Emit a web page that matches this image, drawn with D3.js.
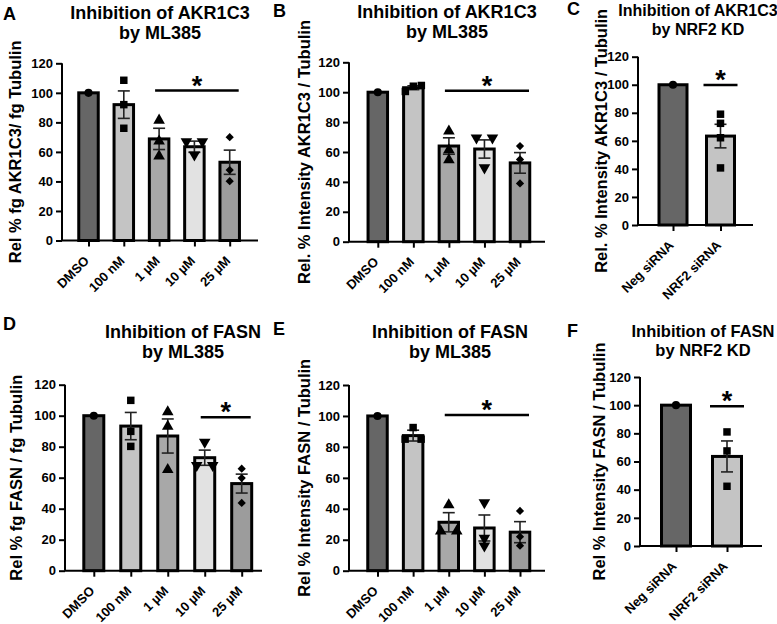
<!DOCTYPE html>
<html lang="en">
<head>
<meta charset="utf-8">
<title>Inhibition of AKR1C3 and FASN</title>
<script src="https://cdn.jsdelivr.net/npm/d3@7"></script>
<style>
  body { margin: 0; background: #fff; }
  svg { display: block; font-family: "Liberation Sans", Arial, sans-serif; }
</style>
</head>
<body>
<script>
// categories and tick labels
var doseCats = ["DMSO", "100 nM", "1 µM", "10 µM", "25 µM"];
var kdCats = ["Neg siRNA", "NRF2 siRNA"];
var yTicks = [0, 20, 40, 60, 80, 100, 120];

// A: AKR1C3 by ML385 (fg / fg tubulin)
var akrFgMean = [100, 92, 68.8, 63.5, 53];
var akrFgSem = [0, 9.3, 7.2, 3.8, 8.2];
var akrFgPts = [[100], [108.5, 92, 76], [81.4, 67.3, 57.2], [67, 67, 58], [70, 47.7, 40.2]];
var akrFgSig = [2, 4, 101.5];   // from category, to category, level

// B: AKR1C3 by ML385 (intensity)
var akrIntMean = [100, 103, 64, 62, 52.7];
var akrIntSem = [0, 1.3, 5.5, 6.1, 6.9];
var akrIntPts = [[100], [100.5, 104, 104.5], [74, 61.4, 54.7], [69.5, 69.5, 49.5], [64, 55, 39]];
var akrIntSig = [2, 4, 101];

// C: AKR1C3 by NRF2 KD
var akrKdMean = [100, 63.4];
var akrKdSem = [0, 8.4];
var akrKdPts = [[100], [79, 72.5, 62.2, 40.7]];
var akrKdSig = [1, 1, 99.8];

// D: FASN by ML385 (fg / fg tubulin)
var fasnFgMean = [100, 93.3, 86.9, 72.9, 56.2];
var fasnFgSem = [0, 8.8, 11, 4.9, 6.1];
var fasnFgPts = [[100], [109.9, 89.9, 80.2], [102.4, 93.1, 65.2], [83, 68, 68], [65.8, 59.8, 43.7]];
var fasnFgSig = [3, 4, 99];

// E: FASN by ML385 (intensity)
var fasnIntMean = [100, 87.3, 31.3, 27.6, 24.9];
var fasnIntSem = [0, 3.5, 6.2, 8.4, 6.8];
var fasnIntPts = [[100], [92.5, 85, 85], [42.5, 25.5, 25.5], [44, 21, 16], [38.6, 22, 16.2]];
var fasnIntSig = [2, 4, 100.6];

// F: FASN by NRF2 KD
var fasnKdMean = [100, 63.6];
var fasnKdSem = [0, 11];
var fasnKdPts = [[100], [81, 67.5, 42.4]];
var fasnKdSig = [1, 1, 99.3];

// styles
var doseColors = ["#666666", "#c4c4c4", "#a8a8a8", "#e2e2e2", "#9c9c9c"];
var kdColors = ["#666666", "#c4c4c4"];
var doseShapes = ["circle", "square", "up", "down", "diamond"];
var kdShapes = ["circle", "square"];

var w = 777, h = 624;
var svg = d3.select("body").append("svg").attr("width", w).attr("height", h);
svg.append("rect").attr("width", w).attr("height", h).attr("fill", "#fff");

var panels = [
  {letter: "A", lx: 3, ly: 20, title: ["Inhibition of AKR1C3", "by ML385"], tx: 160, ty: [19, 39], ts: 18,
   ylab: "Rel % fg AKR1C3/ fg Tubulin", ylx: 21, x0: 62, x1: 258, c0: 88.5, c1: 229.7, bw: 19.5,
   yTop: 63.3, yBot: 240.5, cats: doseCats, colors: doseColors, shapes: doseShapes,
   mean: akrFgMean, sem: akrFgSem, pts: akrFgPts, sig: akrFgSig},
  {letter: "B", lx: 273, ly: 17, title: ["Inhibition of AKR1C3", "by ML385"], tx: 447, ty: [18, 38], ts: 18,
   ylab: "Rel. % Intensity AKR1C3 / Tubulin", ylx: 310, x0: 349, x1: 545, c0: 377.8, c1: 520, bw: 19.5,
   yTop: 62.3, yBot: 241.7, cats: doseCats, colors: doseColors, shapes: doseShapes,
   mean: akrIntMean, sem: akrIntSem, pts: akrIntPts, sig: akrIntSig},
  {letter: "C", lx: 567, ly: 15, title: ["Inhibition of AKR1C3", "by NRF2 KD"], tx: 698, ty: [16, 35], ts: 16,
   ylab: "Rel. % Intensity AKR1C3 / Tubulin", ylx: 607, x0: 638, x1: 753, c0: 673, c1: 720.5, bw: 28,
   yTop: 56.7, yBot: 225, cats: kdCats, colors: kdColors, shapes: kdShapes,
   mean: akrKdMean, sem: akrKdSem, pts: akrKdPts, sig: akrKdSig},
  {letter: "D", lx: 3, ly: 330, title: ["Inhibition of FASN", "by ML385"], tx: 183, ty: [338, 358], ts: 18,
   ylab: "Rel % fg FASN / fg Tubulin", ylx: 22, x0: 65, x1: 262, c0: 93.8, c1: 241.7, bw: 20,
   yTop: 384.7, yBot: 570.7, cats: doseCats, colors: doseColors, shapes: doseShapes,
   mean: fasnFgMean, sem: fasnFgSem, pts: fasnFgPts, sig: fasnFgSig},
  {letter: "E", lx: 273, ly: 335, title: ["Inhibition of FASN", "by ML385"], tx: 450, ty: [338, 358], ts: 18,
   ylab: "Rel % Intensity FASN / Tubulin", ylx: 310, x0: 349, x1: 545, c0: 377.5, c1: 520, bw: 19.5,
   yTop: 385, yBot: 570.7, cats: doseCats, colors: doseColors, shapes: doseShapes,
   mean: fasnIntMean, sem: fasnIntSem, pts: fasnIntPts, sig: fasnIntSig},
  {letter: "F", lx: 567, ly: 337, title: ["Inhibition of FASN", "by NRF2 KD"], tx: 703, ty: [337, 356], ts: 16.5,
   ylab: "Rel % Intensity FASN / Tubulin", ylx: 605, x0: 640, x1: 762, c0: 676, c1: 727, bw: 29,
   yTop: 377, yBot: 546, cats: kdCats, colors: kdColors, shapes: kdShapes,
   mean: fasnKdMean, sem: fasnKdSem, pts: fasnKdPts, sig: fasnKdSig}
];

function symbolPath(shape) {
  if (shape == "circle") return d3.symbol(d3.symbolCircle, 52)();
  if (shape == "square") return d3.symbol(d3.symbolSquare, 56)();
  if (shape == "diamond") return d3.symbol(d3.symbolSquare, 34)();
  return d3.symbol(d3.symbolTriangle, 58)();
}
function symbolRot(shape) {
  if (shape == "down") return 180;
  if (shape == "diamond") return 45;
  return 0;
}

// spread points that sit on top of each other, like Prism does
function spread(vals, y) {
  var idx = vals.map(function(v, i) { return i; }).sort(function(a, b) { return vals[a] - vals[b]; });
  var off = vals.map(function() { return 0; });
  var groups = [], cur = [idx[0]];
  for (var k = 1; k < idx.length; k++) {
    if (Math.abs(y(vals[idx[k]]) - y(vals[cur[cur.length - 1]])) < 7) cur.push(idx[k]);
    else { groups.push(cur); cur = [idx[k]]; }
  }
  groups.push(cur);
  groups.forEach(function(g) {
    if (g.length < 2) return;
    var step = 16 / (g.length - 1);
    g.forEach(function(ii, j) { off[ii] = (j - (g.length - 1) / 2) * step; });
  });
  return off;
}

panels.forEach(function(p) {
  var g = svg.append("g");
  var x = d3.scalePoint().domain(p.cats).range([p.c0, p.c1]);
  var y = d3.scaleLinear().domain([0, 120]).range([p.yBot, p.yTop]);

  // panel letter and title
  g.append("text").attr("x", p.lx).attr("y", p.ly).attr("font-size", 18).attr("font-weight", "bold").text(p.letter);
  p.title.forEach(function(t, i) {
    g.append("text").attr("x", p.tx).attr("y", p.ty[i]).attr("text-anchor", "middle")
      .attr("font-size", p.ts).attr("font-weight", "bold").text(t);
  });

  // y label
  g.append("text")
    .attr("transform", "translate(" + p.ylx + "," + ((p.yTop + p.yBot) / 2) + ") rotate(-90)")
    .attr("text-anchor", "middle").attr("font-size", 16.5).attr("font-weight", "bold").text(p.ylab);

  // bars
  g.selectAll("rect.bar").data(p.cats).join("rect").attr("class", "bar")
    .attr("x", function(c) { return x(c) - p.bw / 2; })
    .attr("width", p.bw)
    .attr("y", function(c, i) { return y(p.mean[i]); })
    .attr("height", function(c, i) { return y(0) - y(p.mean[i]); })
    .attr("fill", function(c, i) { return p.colors[i]; })
    .attr("stroke", "#000").attr("stroke-width", 3);

  // error bars (mean +/- SEM)
  var eb = g.selectAll("g.err").data(p.cats.filter(function(c, i) { return p.sem[i] > 0; })).join("g").attr("class", "err")
    .attr("stroke", "#222").attr("stroke-width", 1.6);
  eb.append("line")
    .attr("x1", function(c) { return x(c); }).attr("x2", function(c) { return x(c); })
    .attr("y1", function(c) { var i = p.cats.indexOf(c); return y(p.mean[i] - p.sem[i]); })
    .attr("y2", function(c) { var i = p.cats.indexOf(c); return y(p.mean[i] + p.sem[i]); });
  [-1, 1].forEach(function(s) {
    eb.append("line")
      .attr("x1", function(c) { return x(c) - 6; }).attr("x2", function(c) { return x(c) + 6; })
      .attr("y1", function(c) { var i = p.cats.indexOf(c); return y(p.mean[i] + s * p.sem[i]); })
      .attr("y2", function(c) { var i = p.cats.indexOf(c); return y(p.mean[i] + s * p.sem[i]); });
  });

  // individual points
  p.cats.forEach(function(c, i) {
    var off = spread(p.pts[i], y);
    g.selectAll(null).data(p.pts[i]).join("path")
      .attr("d", symbolPath(p.shapes[i]))
      .attr("transform", function(v, j) {
        return "translate(" + (x(c) + off[j]) + "," + y(v) + ") rotate(" + symbolRot(p.shapes[i]) + ")";
      })
      .attr("fill", "#000");
  });

  // axes
  var ya = g.append("g").attr("transform", "translate(" + p.x0 + ",0)")
    .call(d3.axisLeft(y).tickValues(yTicks).tickSize(6).tickSizeOuter(0).tickPadding(3));
  ya.select(".domain").attr("d", "M0," + p.yBot + "V" + p.yTop);
  var xa = g.append("g").attr("transform", "translate(0," + p.yBot + ")")
    .call(d3.axisBottom(x).tickSize(6).tickSizeOuter(0));
  xa.select(".domain").attr("d", "M" + p.x0 + ",0H" + p.x1);
  [ya, xa].forEach(function(a) {
    a.selectAll(".domain, .tick line").attr("stroke", "#000").attr("stroke-width", 2);
    a.selectAll("text").attr("fill", "#000").attr("font-size", 13).attr("font-weight", "bold")
      .attr("font-family", "Liberation Sans, Arial, sans-serif");
  });
  xa.selectAll("text")
    .attr("text-anchor", "end").attr("dy", null).attr("y", null)
    .attr("transform", "translate(1,21) rotate(-45)");

  // significance bar and star
  var multi = p.sig[0] != p.sig[1];
  var sx1 = x(p.cats[p.sig[0]]) + (multi ? -4 : -17);
  var sx2 = x(p.cats[p.sig[1]]) + (multi ? 9 : 17);
  var sy = y(p.sig[2]);
  g.append("line").attr("x1", sx1).attr("x2", sx2).attr("y1", sy).attr("y2", sy)
    .attr("stroke", "#000").attr("stroke-width", 2.5);
  g.append("text").attr("x", (sx1 + sx2) / 2).attr("y", sy + 4).attr("text-anchor", "middle")
    .attr("font-size", 27).attr("font-weight", "bold").text("*");
});
</script>
</body>
</html>
